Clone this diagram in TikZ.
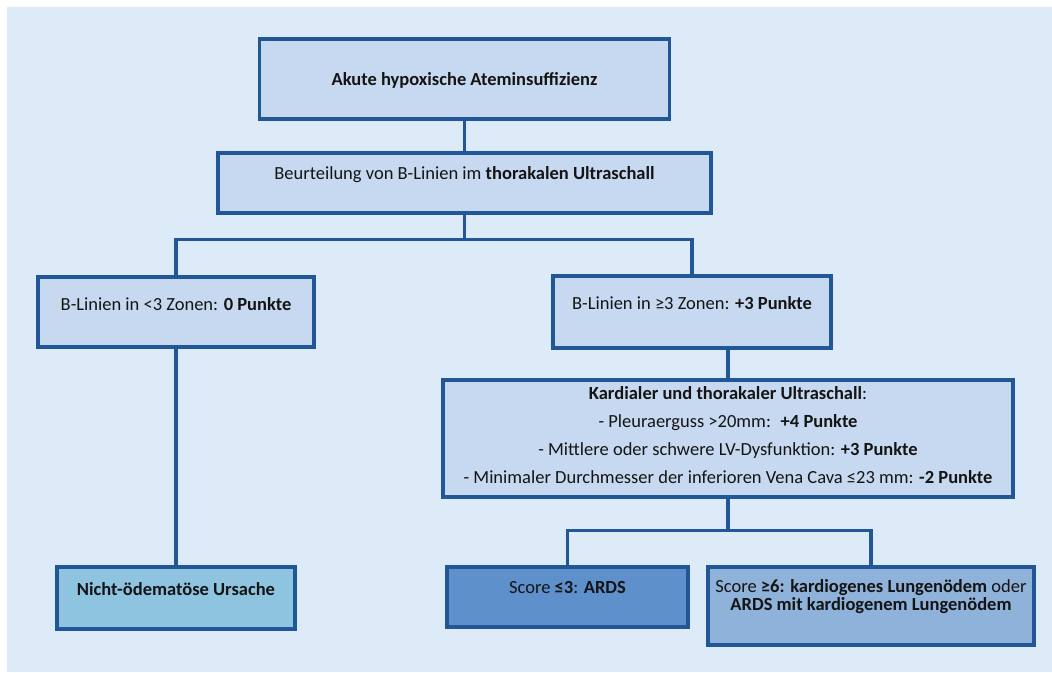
\documentclass[tikz,border=0pt]{standalone}
\usepackage{fontspec}
\setmainfont{Carlito}
\usetikzlibrary{positioning}
\definecolor{bg}{RGB}{221,234,247}
\definecolor{boxfill}{RGB}{198,217,240}
\definecolor{edge}{RGB}{33,87,150}
\definecolor{cyanfill}{RGB}{142,196,224}
\definecolor{darkfill}{RGB}{94,144,204}
\definecolor{midfill}{RGB}{143,178,219}

\begin{document}
\begin{tikzpicture}[x=1pt, y=1pt, node distance=20pt, on grid,
    box/.style={draw=edge, line width=3.5pt, fill=boxfill, inner sep=0pt},
    txt/.style={font=\fontsize{18.5}{21}\selectfont, text=black!92, align=center, inner sep=0pt},
    link/.style={draw=edge, line width=3.5pt}]
    \useasboundingbox (0,0) rectangle (1052,672);
    \fill[bg] (7,0) rectangle (1052,665);

    \node[box, minimum width=410pt, minimum height=80pt]  (akut)    at (464.5,593) {};
    \node[box, minimum width=493pt, minimum height=60pt]  (blinien) [below=104pt of akut] {};
    \node[box, minimum width=276pt, minimum height=70pt]  (wenig)   [below left=129pt and 288.5pt of blinien] {};
    \node[box, minimum width=278pt, minimum height=72pt]  (viele)   [below right=129pt and 227.5pt of blinien] {};
    \node[box, minimum width=570pt, minimum height=117pt] (kardial) [below right=126.5pt and 36pt of viele] {};
    \node[box, minimum width=238pt, minimum height=62pt, fill=cyanfill] (nicht) [below=286pt of wenig] {};
    \node[box, minimum width=241pt, minimum height=60pt, fill=darkfill] (ards)  [below left=158.5pt and 160.5pt of kardial] {};
    \node[box, minimum width=326pt, minimum height=78pt, fill=midfill]  (kardio) [below right=167.5pt and 143pt of kardial] {};

    \node[txt] (akut-t)    [below=35pt of akut.north]    {\textbf{Akute hypoxische Ateminsuffizienz}};
    \node[txt] (blinien-t) [below=15pt of blinien.north] {Beurteilung von B-Linien im \textbf{thorakalen Ultraschall}};
    \node[txt] (wenig-t)   [below=22pt of wenig.north]   {B-Linien in <3 Zonen: \textbf{0 Punkte}};
    \node[txt] (viele-t)   [below=22pt of viele.north]   {B-Linien in ≥3 Zonen: \textbf{+3 Punkte}};
    \node[txt, font=\fontsize{18.5}{28}\selectfont, anchor=north] (kardial-t) at ([yshift=-8pt]kardial.north)
        {\textbf{Kardialer und thorakaler Ultraschall}:\\
         - Pleuraerguss >20mm:~ \textbf{+4 Punkte}\\
         - Mittlere oder schwere LV-Dysfunktion: \textbf{+3 Punkte}\\
         - Minimaler Durchmesser der inferioren Vena Cava ≤23 mm: \textbf{-2 Punkte}};
    \node[txt] (nicht-t)   [below=17pt of nicht.north]   {\textbf{Nicht-ödematöse Ursache}};
    \node[txt] (ards-t)    [below=16pt of ards.north]    {Score \textbf{≤3}: \textbf{ARDS}};
    \node[txt, font=\fontsize{18.5}{18.5}\selectfont, anchor=north] (kardio-t) at ([yshift=-14pt]kardio.north)
        {Score \textbf{≥6: kardiogenes Lungenödem} oder\\
         \textbf{ARDS mit kardiogenem Lungenödem}};

    \coordinate[below=25pt of blinien.south] (gabel1);
    \coordinate[below=32pt of kardial.south] (gabel2);

    \path[link]
        (akut) -- (blinien)
        (blinien.south) -- (gabel1) -| (wenig.north)
        (gabel1) -| (viele.north)
        (wenig) -- (nicht)
        (viele.south -| kardial.north) -- (kardial.north)
        (kardial.south) -- (gabel2) -| (ards.north)
        (gabel2) -| (kardio.north);
\end{tikzpicture}
\end{document}
